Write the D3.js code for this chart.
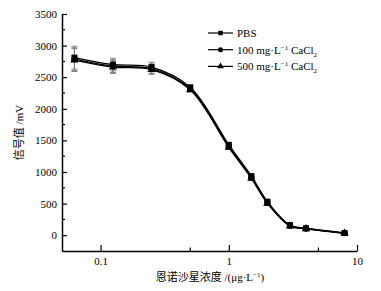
<!DOCTYPE html>
<html>
<head>
<meta charset="utf-8">
<script src="https://cdn.jsdelivr.net/npm/d3@7"></script>
<style>
  body { margin: 0; background: #fff; }
  text { font-family: "Liberation Serif", serif; }
</style>
</head>
<body>
<div id="chart"></div>
<script>
// concentrations (µg/L)
const conc = [0.0625, 0.125, 0.25, 0.5, 1, 1.5, 2, 3, 4, 8];
const pbs = [2810, 2700, 2660, 2340, 1430, 935, 530, 160, 110, 35];
const ca100 = [2785, 2675, 2635, 2315, 1405, 915, 515, 150, 105, 33];
const ca500 = [2770, 2660, 2620, 2300, 1390, 900, 505, 145, 100, 30];
const errs = [180, 100, 75, 30, 30, 30, 30, 25, 20, 15];
const yTicks = [0, 500, 1000, 1500, 2000, 2500, 3000, 3500];
const xTicks = [0.1, 1, 10];

const W = 381, H = 291;
const margin = { top: 14, right: 24, bottom: 40, left: 62 };

const svg = d3.select("#chart").append("svg")
    .attr("width", W).attr("height", H);

const x = d3.scaleLog().domain([0.05, 10]).range([margin.left, W - margin.right]);
const y = d3.scaleLinear().domain([-250, 3500]).range([H - margin.bottom, margin.top]);

// axes
svg.append("g")
    .attr("transform", "translate(0," + (H - margin.bottom) + ")")
    .call(d3.axisBottom(x).tickValues(xTicks).tickFormat(d3.format("")).tickSizeInner(-6).tickSizeOuter(0).tickPadding(6))
    .call(g => g.select(".domain").attr("stroke-width", 1.5))
    .call(g => g.selectAll(".tick line").attr("stroke-width", 1.2))
    .call(g => g.selectAll("text").style("font-size", "11px").style("font-family", "Liberation Serif"));

svg.append("g")
    .attr("transform", "translate(0," + (H - margin.bottom) + ")")
    .selectAll("line").data([0.5, 5]).enter().append("line")
    .attr("x1", d => x(d)).attr("x2", d => x(d))
    .attr("y1", 0).attr("y2", -3.5)
    .attr("stroke", "#000").attr("stroke-width", 1.2);

svg.append("g")
    .attr("transform", "translate(" + margin.left + ",0)")
    .call(d3.axisLeft(y).tickValues(yTicks).tickFormat(d3.format("d")).tickSizeInner(-5).tickSizeOuter(0).tickPadding(5))
    .call(g => g.select(".domain").attr("stroke-width", 1.5))
    .call(g => g.selectAll(".tick line").attr("stroke-width", 1.2))
    .call(g => g.selectAll("text").style("font-size", "11px").style("font-family", "Liberation Serif"));

svg.append("g")
    .attr("transform", "translate(" + margin.left + ",0)")
    .selectAll("line").data(d3.range(250, 3500, 500)).enter().append("line")
    .attr("x1", 0).attr("x2", 3)
    .attr("y1", d => y(d)).attr("y2", d => y(d))
    .attr("stroke", "#000").attr("stroke-width", 1.2);

// axis titles
const yt = svg.append("text")
    .attr("transform", "translate(23," + ((y(3500) + y(-250)) / 2) + ") rotate(-90)")
    .attr("text-anchor", "middle")
    .style("font-size", "11px");
yt.append("tspan").style("font-family", "Noto Sans CJK SC").text("信号值");
yt.append("tspan").text(" /mV");

const xt = svg.append("text")
    .attr("x", 210).attr("y", 281)
    .attr("text-anchor", "middle")
    .style("font-size", "11px");
xt.append("tspan").style("font-family", "Noto Sans CJK SC").text("恩诺沙星浓度");
xt.append("tspan").text(" /(μg·L");
xt.append("tspan").attr("dy", -4).style("font-size", "7px").text("−1");
xt.append("tspan").attr("dy", 4).text(")");

// series
const series = [
    { name: "PBS", vals: pbs, sym: d3.symbolSquare, size: 36 },
    { name: "100", vals: ca100, sym: d3.symbolCircle, size: 30 },
    { name: "500", vals: ca500, sym: d3.symbolTriangle, size: 30 }
];

const line = d3.line()
    .x((d, i) => x(conc[i]))
    .y(d => y(d))
    .curve(d3.curveCatmullRom.alpha(0.5));

// error bars (grey)
series.forEach(s => {
    const g = svg.append("g").attr("stroke", "#777").attr("stroke-width", 0.9);
    s.vals.forEach((v, i) => {
        const cx = x(conc[i]);
        g.append("line").attr("x1", cx).attr("x2", cx).attr("y1", y(v - errs[i])).attr("y2", y(v + errs[i]));
        g.append("line").attr("x1", cx - 3).attr("x2", cx + 3).attr("y1", y(v - errs[i])).attr("y2", y(v - errs[i]));
        g.append("line").attr("x1", cx - 3).attr("x2", cx + 3).attr("y1", y(v + errs[i])).attr("y2", y(v + errs[i]));
    });
});

series.forEach(s => {
    svg.append("path")
        .datum(s.vals)
        .attr("d", line)
        .attr("fill", "none")
        .attr("stroke", "#000")
        .attr("stroke-width", 1.4);
    svg.append("g").selectAll("path")
        .data(s.vals).enter().append("path")
        .attr("transform", (d, i) => "translate(" + x(conc[i]) + "," + y(d) + ")")
        .attr("d", d3.symbol().type(s.sym).size(s.size))
        .attr("fill", "#000");
});

// legend
const legend = svg.append("g").attr("transform", "translate(208,33)");
const labels = ["PBS", "100 mg·L", "500 mg·L"];
series.forEach((s, i) => {
    const row = legend.append("g").attr("transform", "translate(0," + (i * 16.7) + ")");
    row.append("line").attr("x1", 0).attr("x2", 25).attr("y1", 0).attr("y2", 0)
        .attr("stroke", "#000").attr("stroke-width", 1.2);
    row.append("path").attr("transform", "translate(12.5,0)")
        .attr("d", d3.symbol().type(s.sym).size(20)).attr("fill", "#000");
    const t = row.append("text").attr("x", 29).attr("y", 4).style("font-size", "11px");
    t.append("tspan").text(labels[i]);
    if (i > 0) {
        t.append("tspan").attr("dy", -4).style("font-size", "7px").text("−1");
        t.append("tspan").attr("dy", 4).text(" CaCl");
        t.append("tspan").attr("dy", 3).style("font-size", "7px").text("2");
    }
});
</script>
</body>
</html>
